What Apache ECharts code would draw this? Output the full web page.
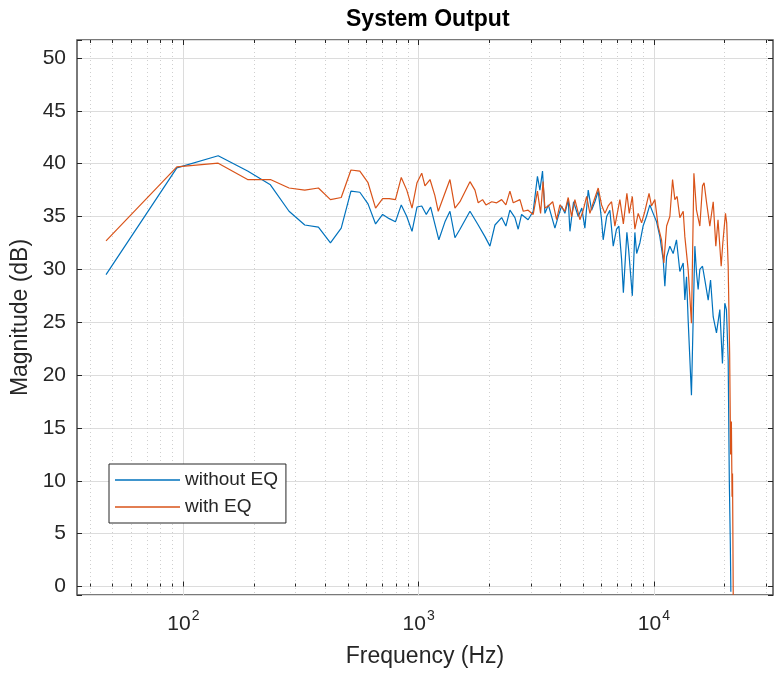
<!DOCTYPE html>
<html>
<head>
<meta charset="utf-8">
<script src="https://cdn.jsdelivr.net/npm/echarts@6/dist/echarts.min.js"></script>
<style>
  html, body { margin: 0; padding: 0; background: #fff; }
  #chart { width: 774px; height: 675px; }
</style>
</head>
<body>
<div id="chart"></div>
<script>
// Rango de ejes
var X_MIN = 35.3, X_MAX = 32100;
var Y_MIN = -0.8, Y_MAX = 51.7;

var majorTicks = [100, 1000, 10000];
var minorTicks = [40, 50, 60, 70, 80, 90, 200, 300, 400, 500, 600, 700, 800, 900,
                  2000, 3000, 4000, 5000, 6000, 7000, 8000, 9000, 20000, 30000];

// without EQ
var freqSinEq = [46.9, 93.8, 140.6, 187.5, 234.4, 281.3, 328.1, 375, 421.9, 468.8, 515.6, 562.5, 609.4, 656.3, 703.1, 750, 796.9, 843.8, 890.6, 937.5, 984.4,
  1031, 1078, 1125, 1172, 1219, 1294, 1359, 1427, 1499, 1653, 1792, 1914, 2010, 2111, 2254, 2350, 2444, 2567, 2650, 2740, 2920, 3070, 3200, 3278, 3363, 3443, 3560,
  3797, 3920, 4055, 4187, 4325, 4397, 4557, 4770, 4940, 5091, 5260, 5435, 5615, 5800, 5995, 6090, 6300, 6502, 6720, 6940, 7100, 7290, 7420, 7680, 7810, 8100,
  8304, 8450, 8721, 9000, 9300, 9617, 9930, 10270, 10605, 10960, 11138, 11330, 11696, 12080, 12480, 12898, 13330, 13544, 13770, 13990, 14450, 14680, 14938,
  15180, 15430, 15686, 16100, 16472, 17020, 17420, 17880, 18460, 19076, 19570, 20032, 20350, 20700, 20930, 21140, 21250];
var magSinEq = [29.5, 39.6, 40.75, 39.3, 38.0, 35.5, 34.2, 34.0, 32.5, 33.9, 37.4, 37.3, 36.2, 34.3, 35.2, 34.8, 34.5, 36.1, 35.0, 33.6, 35.9,
  36.0, 35.2, 35.9, 34.3, 32.8, 34.5, 35.5, 33.0, 33.8, 35.5, 34.2, 33.1, 32.2, 34.2, 34.9, 34.1, 35.6, 34.9, 33.8, 35.2, 34.7, 35.5, 38.8, 37.5, 39.3, 35.3, 36.1,
  33.9, 35.0, 36.0, 35.3, 36.6, 33.6, 36.4, 35.0, 35.8, 33.9, 37.5, 35.6, 36.4, 37.4, 34.7, 32.8, 35.0, 35.6, 32.2, 33.8, 34.1, 31.0, 27.8, 33.5, 31.9, 27.5,
  33.5, 31.5, 32.5, 34.1, 35.0, 36.1, 35.3, 34.5, 33.1, 30.9, 28.4, 31.2, 32.2, 31.5, 32.8, 29.8, 30.6, 27.1, 29.3, 25.2, 18.1, 24.9, 32.2,
  29.7, 28.1, 30.0, 30.3, 29.0, 27.1, 29.0, 25.5, 24.0, 26.2, 21.1, 26.8, 26.2, 21.4, 10.0, 4.0, -0.5];

// with EQ
var freqConEq = [46.9, 93.8, 140.6, 187.5, 234.4, 281.3, 328.1, 375, 421.9, 468.8, 515.6, 562.5, 609.4, 656.3, 703.1, 750, 796.9, 843.8, 890.6, 937.5, 984.4,
  1031, 1064, 1118, 1172, 1212, 1359, 1427, 1499, 1653, 1736, 1792, 1870, 1933, 2045, 2147, 2254, 2350, 2444, 2525, 2696, 2785, 2920, 3070, 3200, 3300, 3380,
  3443, 3560, 3715, 3860, 3987, 4187, 4325, 4470, 4617, 4848, 5010, 5180, 5347, 5525, 5800, 5995, 6192, 6395, 6610, 6829, 7171, 7420, 7680, 7860, 8100,
  8304, 8580, 8870, 9158, 9540, 9770, 10099, 10430, 10780, 11030, 11330, 11696, 12010, 12282, 12560, 12898, 13330, 13544, 13990, 14450, 14800,
  15180, 15686, 16100, 16350, 16760, 17298, 17880, 18340, 18740, 19330, 19640, 20160, 20400, 20700, 21000, 21200, 21360, 21500, 21600, 21750];
var magConEq = [32.7, 39.7, 40.05, 38.5, 38.5, 37.7, 37.5, 37.7, 36.6, 36.8, 39.4, 39.3, 38.2, 35.8, 36.7, 36.7, 36.6, 38.7, 37.5, 35.8, 38.2,
  39.1, 37.9, 38.5, 37.0, 35.5, 38.5, 35.8, 36.4, 38.3, 37.5, 36.3, 36.6, 36.1, 36.4, 36.3, 36.6, 36.1, 37.4, 36.3, 36.6, 35.5, 35.6, 35.2, 37.4, 35.3, 38.3,
  35.8, 36.0, 36.4, 34.7, 36.1, 35.5, 36.8, 35.0, 36.6, 34.7, 35.6, 36.9, 35.3, 36.3, 37.7, 36.1, 35.3, 36.0, 36.4, 34.1, 36.6, 34.3, 37.2, 35.3, 36.9,
  33.8, 35.3, 34.4, 35.5, 37.2, 36.0, 36.6, 34.1, 32.8, 30.6, 34.1, 35.0, 38.5, 36.6, 36.9, 34.9, 35.5, 33.1, 30.0, 24.9, 39.1,
  35.6, 34.1, 37.9, 38.2, 36.3, 34.1, 36.4, 32.2, 34.7, 30.3, 32.5, 35.3, 34.4, 30.3, 22.0, 12.5, 15.6, 8.5, 10.7, -0.8];

function juntar(xs, ys) {
    return xs.map(function (x, i) { return [x, ys[i]]; });
}

var TXT = '#262626';
var FONT = 'Liberation Sans, Arial, sans-serif';

var chart = echarts.init(document.getElementById('chart'));

function ejeX(pos, valores, conLabel, largo, split) {
    return {
        type: 'log',
        position: pos,
        min: X_MIN,
        max: X_MAX,
        gridIndex: 0,
        axisLine: { show: false },
        axisTick: { show: true, inside: true, length: largo, customValues: valores, lineStyle: { color: TXT, width: 1 } },
        axisLabel: conLabel ? {
            show: true,
            customValues: valores,
            margin: 14,
            fontFamily: FONT,
            formatter: function (v) {
                return '{b|10}{s|' + Math.round(Math.log10(v)) + '}';
            },
            rich: {
                b: { fontSize: 21, color: TXT, fontFamily: FONT, lineHeight: 26, verticalAlign: 'bottom' },
                s: { fontSize: 14, color: TXT, fontFamily: FONT, lineHeight: 26, verticalAlign: 'top', padding: [0, 0, 0, 1] }
            }
        } : { show: false },
        splitLine: split || { show: false }
    };
}

var option = {
    animation: false,
    backgroundColor: '#fff',
    title: {
        text: 'System Output',
        left: 346,
        top: 8,
        padding: 0,
        textStyle: { fontSize: 23, fontWeight: 'bold', color: '#000', fontFamily: FONT }
    },
    grid: {
        left: 77, top: 40, right: 1, bottom: 80,
        show: true, borderColor: '#4d4d4d', borderWidth: 1.5, backgroundColor: '#fff'
    },
    legend: {
        orient: 'vertical',
        left: 109,
        top: 464,
        padding: [6, 8, 6, 6],
        icon: 'rect',
        itemWidth: 65,
        itemHeight: 1.5,
        itemGap: 7,
        backgroundColor: '#fff',
        borderColor: '#262626',
        borderWidth: 1,
        borderRadius: 0,
        textStyle: { fontSize: 19, color: TXT, fontFamily: FONT, lineHeight: 20 },
        data: ['without EQ', 'with EQ']
    },
    xAxis: [
        ejeX('bottom', majorTicks, true, 5, { show: true, lineStyle: { color: '#dcdcdc', width: 1 } }),
        ejeX('bottom', minorTicks, false, 3, { show: true, lineStyle: { color: '#cfcfcf', width: 1, type: [1, 3] } }),
        ejeX('top', majorTicks, false, 5),
        ejeX('top', minorTicks, false, 3)
    ],
    yAxis: [
        {
            type: 'value',
            position: 'left',
            min: Y_MIN,
            max: Y_MAX,
            splitNumber: 10,
            name: 'Magnitude (dB)',
            nameLocation: 'middle',
            nameGap: 44,
            nameTextStyle: { fontSize: 23, color: TXT, fontFamily: FONT },
            axisLine: { show: false },
            axisTick: { show: true, inside: true, length: 5, lineStyle: { color: TXT } },
            axisLabel: {
                margin: 11,
                fontSize: 21,
                color: TXT,
                fontFamily: FONT,
                formatter: function (v) {
                    return Math.abs(v - Math.round(v / 5) * 5) < 1e-6 ? String(Math.round(v)) : '';
                }
            },
            splitLine: { show: true, lineStyle: { color: '#dcdcdc', width: 1 } }
        },
        {
            type: 'value',
            position: 'right',
            min: Y_MIN,
            max: Y_MAX,
            splitNumber: 10,
            axisLine: { show: false },
            axisTick: { show: true, inside: true, length: 5, lineStyle: { color: TXT } },
            axisLabel: { show: false },
            splitLine: { show: false }
        }
    ],
    series: [
        {
            name: 'without EQ',
            type: 'line',
            xAxisIndex: 0,
            yAxisIndex: 0,
            symbol: 'none',
            lineStyle: { color: '#0072BD', width: 1.2 },
            itemStyle: { color: '#0072BD' },
            data: juntar(freqSinEq, magSinEq),
            z: 3
        },
        {
            name: 'with EQ',
            type: 'line',
            xAxisIndex: 0,
            yAxisIndex: 0,
            symbol: 'none',
            lineStyle: { color: '#D95319', width: 1.2 },
            itemStyle: { color: '#D95319' },
            data: juntar(freqConEq, magConEq),
            z: 4
        }
    ]
};

chart.setOption(option);

// nombre del eje x
chart.setOption({
    xAxis: [{
        name: 'Frequency (Hz)',
        nameLocation: 'middle',
        nameGap: 50,
        nameTextStyle: { fontSize: 23, color: TXT, fontFamily: FONT }
    }]
});
</script>
</body>
</html>
